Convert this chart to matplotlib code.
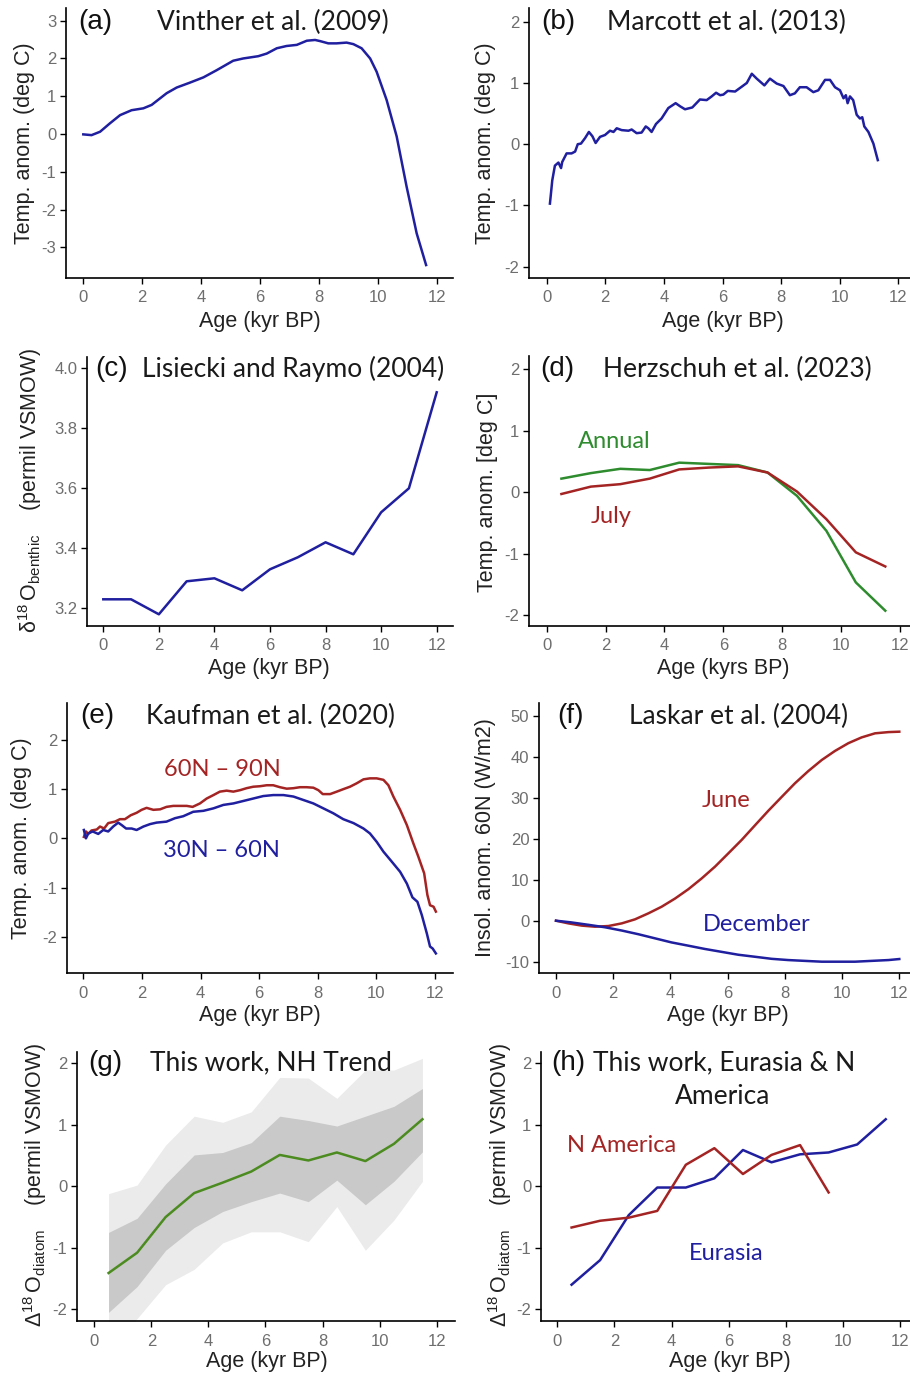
import matplotlib.pyplot as plt

plt.rcParams['font.family'] = ['Liberation Sans', 'DejaVu Sans']
plt.rcParams['mathtext.fontset'] = 'custom'
plt.rcParams['mathtext.rm'] = 'Liberation Sans'
plt.rcParams['mathtext.it'] = 'Liberation Sans:italic'
plt.rcParams['axes.unicode_minus'] = False

BLUE = '#1f1f9f'
RED = '#a42424'
GREEN = '#2e8b2e'
OLIVE = '#4b8b1f'
TICKGREY = '#6e6e6e'
TITLE_FONT = ['Lato', 'DejaVu Sans']

# (a) Vinther et al. (2009)
vin_age = [0.0, 0.28, 0.57, 0.9, 1.25, 1.64, 2.04, 2.32, 2.83, 3.17, 3.62, 4.08, 4.53, 5.09,
           5.43, 5.94, 6.23, 6.57, 6.9, 7.25, 7.59, 7.87, 8.04, 8.32, 8.6, 8.94, 9.17, 9.45,
           9.74, 9.96, 10.3, 10.64, 10.98, 11.32, 11.64]
vin_temp = [-0.01, -0.03, 0.06, 0.28, 0.5, 0.63, 0.68, 0.77, 1.08, 1.23, 1.36, 1.5, 1.69, 1.94,
            2.0, 2.06, 2.13, 2.27, 2.33, 2.36, 2.47, 2.49, 2.46, 2.4, 2.4, 2.42, 2.38, 2.27,
            2.0, 1.65, 0.9, -0.06, -1.4, -2.63, -3.47]

# (b) Marcott et al. (2013)
mar_age = [0.11, 0.14, 0.19, 0.28, 0.4, 0.49, 0.53, 0.68, 0.85, 0.97, 1.06, 1.17, 1.31, 1.44,
           1.56, 1.67, 1.82, 1.99, 2.16, 2.28, 2.39, 2.56, 2.79, 2.9, 3.07, 3.24, 3.38, 3.47,
           3.58, 3.73, 3.92, 4.15, 4.4, 4.55, 4.72, 4.97, 5.23, 5.46, 5.63, 5.78, 5.92, 6.03,
           6.18, 6.43, 6.66, 6.83, 7.0, 7.17, 7.43, 7.62, 7.85, 8.08, 8.3, 8.47, 8.64, 8.87,
           9.1, 9.27, 9.5, 9.67, 9.84, 10.01, 10.13, 10.21, 10.27, 10.35, 10.46, 10.58, 10.69,
           10.77, 10.84, 10.98, 11.15, 11.3]
mar_temp = [-0.97, -0.83, -0.59, -0.35, -0.3, -0.39, -0.29, -0.15, -0.15, -0.12, 0.0, 0.01,
            0.1, 0.2, 0.13, 0.02, 0.12, 0.15, 0.22, 0.2, 0.26, 0.23, 0.22, 0.24, 0.18, 0.19,
            0.29, 0.26, 0.2, 0.33, 0.42, 0.59, 0.67, 0.62, 0.57, 0.6, 0.73, 0.72, 0.78, 0.84,
            0.8, 0.81, 0.87, 0.86, 0.94, 1.0, 1.15, 1.07, 0.96, 1.07, 0.99, 0.95, 0.8, 0.83,
            0.93, 0.93, 0.85, 0.88, 1.05, 1.05, 0.93, 0.88, 0.75, 0.8, 0.67, 0.78, 0.72, 0.48,
            0.42, 0.44, 0.29, 0.2, 0.01, -0.26]

# (c) Lisiecki and Raymo (2004)
lr_age = [0, 1, 2, 3, 4, 5, 6, 7, 8, 9, 10, 11, 12]
lr_d18o = [3.23, 3.23, 3.18, 3.29, 3.30, 3.26, 3.33, 3.37, 3.42, 3.38, 3.52, 3.60, 3.92]

# (d) Herzschuh et al. (2023)
her_age = [0.5, 1.5, 2.5, 3.5, 4.5, 5.5, 6.5, 7.5, 8.5, 9.5, 10.5, 11.5]
her_annual = [0.22, 0.31, 0.38, 0.36, 0.48, 0.46, 0.44, 0.32, -0.06, -0.63, -1.47, -1.93]
her_july = [-0.03, 0.09, 0.13, 0.22, 0.37, 0.40, 0.42, 0.32, 0.01, -0.44, -0.98, -1.21]

# (e) Kaufman et al. (2020)
kh_age = [0.02, 0.09, 0.17, 0.28, 0.46, 0.57, 0.71, 0.85, 1.08, 1.25, 1.42, 1.62, 1.82, 1.99,
          2.16, 2.39, 2.62, 2.84, 3.07, 3.3, 3.53, 3.73, 3.98, 4.21, 4.44, 4.66, 4.89, 5.12,
          5.35, 5.57, 5.8, 6.03, 6.26, 6.48, 6.71, 6.94, 7.17, 7.39, 7.62, 7.85, 8.02, 8.17,
          8.42, 8.65, 8.87, 9.1, 9.33, 9.56, 9.78, 10.01, 10.24, 10.41, 10.58, 10.81, 11.04,
          11.26, 11.43, 11.63, 11.74, 11.83, 11.95, 12.03]
kh_6090 = [0.03, 0.14, 0.09, 0.16, 0.18, 0.24, 0.2, 0.31, 0.34, 0.39, 0.39, 0.47, 0.52, 0.58,
           0.62, 0.58, 0.59, 0.64, 0.66, 0.66, 0.66, 0.64, 0.71, 0.81, 0.88, 0.95, 0.97, 0.95,
           0.98, 1.02, 1.05, 1.06, 1.08, 1.08, 1.04, 1.01, 1.02, 1.04, 1.04, 1.03, 0.98, 0.9,
           0.9, 0.95, 1.0, 1.05, 1.12, 1.2, 1.22, 1.22, 1.19, 1.08, 0.85, 0.58, 0.27,
           -0.1, -0.37, -0.71, -1.15, -1.36, -1.39, -1.49]
km_age = [0.02, 0.09, 0.17, 0.32, 0.51, 0.68, 0.85, 1.02, 1.19, 1.31, 1.46, 1.65, 1.82, 2.05,
          2.28, 2.5, 2.84, 3.13, 3.41, 3.75, 4.1, 4.44, 4.78, 5.12, 5.46, 5.8, 6.14, 6.48,
          6.83, 7.17, 7.51, 7.85, 8.19, 8.53, 8.87, 9.22, 9.56, 9.78, 10.01, 10.24, 10.52,
          10.81, 11.04, 11.23, 11.4, 11.55, 11.72, 11.83, 11.92, 12.03]
km_3060 = [0.17, 0.0, 0.1, 0.14, 0.09, 0.17, 0.14, 0.24, 0.32, 0.27, 0.2, 0.2, 0.17, 0.24,
           0.29, 0.32, 0.34, 0.41, 0.45, 0.54, 0.56, 0.61, 0.68, 0.71, 0.76, 0.81, 0.86, 0.88,
           0.88, 0.85, 0.78, 0.71, 0.61, 0.51, 0.39, 0.31, 0.2, 0.1, -0.07, -0.27, -0.47,
           -0.68, -0.92, -1.2, -1.29, -1.56, -1.93, -2.2, -2.24, -2.34]

# (f) Laskar et al. (2004)
jun_age = [0, 0.43, 0.9, 1.36, 1.83, 2.3, 2.76, 3.23, 3.69, 4.16, 4.63, 5.09, 5.56, 6.02, 6.49,
           6.96, 7.42, 7.89, 8.35, 8.82, 9.29, 9.75, 10.22, 10.68, 11.15, 11.62, 12.0]
jun_insol = [0, -0.65, -1.2, -1.46, -1.3, -0.65, 0.33, 1.8, 3.4, 5.4, 7.7, 10.3, 13.2, 16.4,
             19.7, 23.3, 26.8, 30.2, 33.5, 36.5, 39.2, 41.4, 43.3, 44.7, 45.7, 46.0, 46.1]
dec_age = [0, 0.52, 1.13, 1.71, 2.3, 2.88, 3.46, 4.04, 4.63, 5.21, 5.79, 6.37, 6.96, 7.54,
           8.12, 8.7, 9.29, 9.87, 10.45, 11.03, 11.62, 12.0]
dec_insol = [0, -0.4, -1.0, -1.6, -2.4, -3.3, -4.3, -5.3, -6.1, -6.9, -7.6, -8.3, -8.8, -9.3,
             -9.6, -9.8, -10.0, -10.0, -10.0, -9.8, -9.6, -9.35]

# (g) This work, NH trend
nh_age = [0.5, 1.5, 2.5, 3.5, 4.5, 5.5, 6.5, 7.5, 8.5, 9.5, 10.5, 11.5]
nh_mean = [-1.41, -1.08, -0.5, -0.11, 0.06, 0.24, 0.51, 0.42, 0.55, 0.41, 0.69, 1.09]
nh_in_hi = [-0.75, -0.52, 0.04, 0.51, 0.55, 0.71, 1.14, 1.07, 0.98, 1.14, 1.3, 1.59]
nh_in_lo = [-2.05, -1.63, -1.04, -0.67, -0.41, -0.25, -0.11, -0.25, 0.1, -0.3, 0.08, 0.56]
nh_out_hi = [-0.12, 0.02, 0.67, 1.14, 1.04, 1.21, 1.77, 1.76, 1.43, 1.89, 1.89, 2.08]
nh_out_lo = [-2.7, -2.15, -1.6, -1.35, -0.92, -0.74, -0.74, -0.9, -0.33, -1.04, -0.55, 0.08]

# (h) This work, Eurasia & N America
eu_age = [0.5, 1.5, 2.5, 3.5, 4.5, 5.5, 6.5, 7.5, 8.5, 9.5, 10.5, 11.5]
eu_val = [-1.6, -1.2, -0.47, -0.02, -0.02, 0.13, 0.59, 0.39, 0.52, 0.55, 0.68, 1.09]
na_age = [0.5, 1.5, 2.5, 3.5, 4.5, 5.5, 6.5, 7.5, 8.5, 9.5]
na_val = [-0.67, -0.56, -0.51, -0.4, 0.35, 0.62, 0.2, 0.51, 0.67, -0.1]

W, H = 910, 1377
fig = plt.figure(figsize=(W / 100, H / 100), dpi=100)


def fx(px):
    return px / W


def fy(py):
    return 1 - py / H


def make_ax(box, xref, yref, yticks, yfmt='{:g}'):
    # box = left, right, top, bottom in pixels; xref/yref = two (pixel, value) pairs
    left, right, top, bottom = box
    ax = fig.add_axes([fx(left), fy(bottom), (right - left) / W, (bottom - top) / H])
    (p1, v1), (p2, v2) = xref
    s = (v2 - v1) / (p2 - p1)
    ax.set_xlim(v1 + (left - p1) * s, v1 + (right - p1) * s)
    (p1, v1), (p2, v2) = yref
    s = (v2 - v1) / (p2 - p1)
    ax.set_ylim(v1 + (bottom - p1) * s, v1 + (top - p1) * s)
    for side in ['top', 'right']:
        ax.spines[side].set_visible(False)
    for side in ['left', 'bottom']:
        ax.spines[side].set_linewidth(1.2)
    ax.set_xticks(range(0, 13, 2))
    ax.set_yticks(yticks)
    ax.set_yticklabels([yfmt.format(t) for t in yticks])
    ax.tick_params(direction='out', length=4, width=1.0, labelsize=12, labelcolor=TICKGREY)
    ax.tick_params(axis='x', pad=5)
    ax.tick_params(axis='y', pad=3)
    ax.set_facecolor('none')
    return ax


def labels(ax, xlab, xpos, ylab, ypos):
    ax.set_xlabel(xlab, fontsize=15.5, va='center', color='#222222')
    ax.xaxis.set_label_coords(fx(xpos[0]), fy(xpos[1]), transform=fig.transFigure)
    ax.set_ylabel(ylab, fontsize=15.5, va='center', color='#222222')
    ax.yaxis.set_label_coords(fx(ypos[0]), fy(ypos[1]), transform=fig.transFigure)


def heads(tag, tagpos, title, titlepos):
    fig.text(fx(tagpos[0]), fy(tagpos[1]), tag, fontsize=20, ha='left', va='center',
             color='#111111')
    fig.text(fx(titlepos[0]), fy(titlepos[1]), title, fontsize=19, ha='center', va='center',
             family=TITLE_FONT, color='#1a1a1a')


def note(ax, x, y, s, color):
    ax.text(x, y, s, color=color, fontsize=17, family=TITLE_FONT, ha='center', va='center')


# (a)
ax = make_ax((66, 453, 8, 278), ((83.3, 0), (436.7, 12)), ((20.7, 3), (247.3, -3)),
             [-3, -2, -1, 0, 1, 2, 3])
ax.plot(vin_age, vin_temp, color=BLUE, lw=1.8)
labels(ax, 'Age (kyr BP)', (260, 322), 'Temp. anom. (deg C)', (25, 143))
heads('(a)', (78, 22), 'Vinther et al. (2009)', (273, 22))

# (b)
ax = make_ax((529, 910, 8, 278), ((546.7, 0), (898.3, 12)), ((21.7, 2), (266.7, -2)),
             [-2, -1, 0, 1, 2])
ax.plot(mar_age, mar_temp, color=BLUE, lw=1.8)
labels(ax, 'Age (kyr BP)', (723, 322), 'Temp. anom. (deg C)', (486, 143))
heads('(b)', (541, 22), 'Marcott et al. (2013)', (726, 22))

# (c)
ax = make_ax((87, 453, 357, 626), ((103.3, 0), (436.7, 12)), ((368.3, 4.0), (608.3, 3.2)),
             [3.2, 3.4, 3.6, 3.8, 4.0], '{:.1f}')
ax.plot(lr_age, lr_d18o, color=BLUE, lw=1.8)
labels(ax, 'Age (kyr BP)', (269, 668),
       'δ$^{18}\\,$O$_{\\mathrm{benthic}}$    (permil VSMOW)', (30, 490))
heads('(c)', (95, 369), 'Lisiecki and Raymo (2004)', (293, 369))

# (d)
ax = make_ax((529, 910, 356, 626), ((546.7, 0), (900, 12)), ((369.3, 2), (615, -2)),
             [-2, -1, 0, 1, 2])
ax.plot(her_age, her_annual, color=GREEN, lw=1.8)
ax.plot(her_age, her_july, color=RED, lw=1.8)
note(ax, 2.3, 0.83, 'Annual', GREEN)
note(ax, 2.2, -0.39, 'July', RED)
labels(ax, 'Age (kyrs BP)', (723, 668), 'Temp. anom. [deg C]', (487, 492))
heads('(d)', (540, 369), 'Herzschuh et al. (2023)', (737, 369))

# (e)
ax = make_ax((67, 453, 703, 973), ((83.3, 0), (435, 12)), ((740, 2), (936.7, -2)),
             [-2, -1, 0, 1, 2])
ax.plot(kh_age, kh_6090, color=RED, lw=1.8)
ax.plot(km_age, km_3060, color=BLUE, lw=1.8)
note(ax, 4.73, 1.39, '60N – 90N', RED)
note(ax, 4.73, -0.24, '30N – 60N', BLUE)
labels(ax, 'Age (kyr BP)', (260, 1015), 'Temp. anom. (deg C)', (22, 838))
heads('(e)', (80, 716), 'Kaufman et al. (2020)', (271, 716))

# (f)
ax = make_ax((539, 910, 703, 973), ((556, 0), (899.3, 12)), ((715.7, 50), (961.7, -10)),
             [-10, 0, 10, 20, 30, 40, 50])
ax.plot(jun_age, jun_insol, color=RED, lw=1.8)
ax.plot(dec_age, dec_insol, color=BLUE, lw=1.8)
note(ax, 5.94, 29.2, 'June', RED)
note(ax, 7.0, -1.0, 'December', BLUE)
labels(ax, 'Age (kyr BP)', (728, 1015), 'Insol. anom. 60N (W/m2)', (485, 838))
heads('(f)', (557, 716), 'Laskar et al. (2004)', (739, 716))

# (g)
ax = make_ax((77, 455, 1052, 1321), ((94.3, 0), (436.7, 12)), ((1063.3, 2), (1309.3, -2)),
             [-2, -1, 0, 1, 2])
ax.fill_between(nh_age, nh_out_lo, nh_out_hi, color='#ebebeb', lw=0)
ax.fill_between(nh_age, nh_in_lo, nh_in_hi, color='#c9c9c9', lw=0)
ax.plot(nh_age, nh_mean, color=OLIVE, lw=1.8)
labels(ax, 'Age (kyr BP)', (267, 1362),
       'Δ$^{18}\\,$O$_{\\mathrm{diatom}}$    (permil VSMOW)', (35, 1185))
heads('(g)', (88, 1063), 'This work, NH Trend', (271, 1063))

# (h)
ax = make_ax((541, 910, 1052, 1321), ((557.3, 0), (900, 12)), ((1063.3, 2), (1309.3, -2)),
             [-2, -1, 0, 1, 2])
ax.plot(eu_age, eu_val, color=BLUE, lw=1.8)
ax.plot(na_age, na_val, color=RED, lw=1.8)
note(ax, 2.26, 0.67, 'N America', RED)
note(ax, 5.9, -1.09, 'Eurasia', BLUE)
labels(ax, 'Age (kyr BP)', (730, 1362),
       'Δ$^{18}\\,$O$_{\\mathrm{diatom}}$    (permil VSMOW)', (500, 1185))
heads('(h)', (551, 1063), 'This work, Eurasia & N', (724, 1063))
fig.text(fx(723), fy(1097), 'America', fontsize=19, ha='center', va='center',
         family=TITLE_FONT, color='#1a1a1a')

fig.savefig('out.png', dpi=100, facecolor='white')
